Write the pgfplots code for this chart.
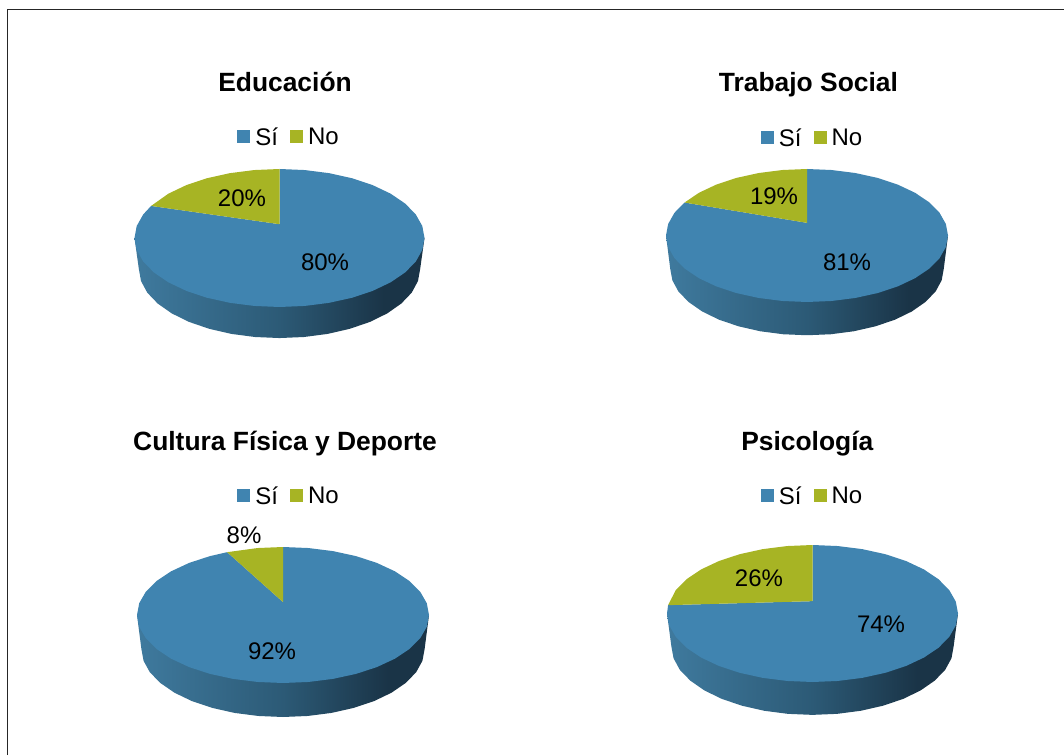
\documentclass[border=0pt]{standalone}
\usepackage{fontspec}
\setmainfont{Liberation Sans}
\usepackage{pgfplots}
\usepackage{pgfplotstable}
\pgfplotsset{compat=1.18}

\definecolor{si}{HTML}{4084B0}
\definecolor{no}{HTML}{A7B424}
\definecolor{wallA}{HTML}{3F7A9E}
\definecolor{wallB}{HTML}{2C5A76}
\definecolor{wallC}{HTML}{1A3447}
\definecolor{wallD}{HTML}{20405A}
\pgfdeclarehorizontalshading{wallside}{100bp}{
  color(0bp)=(wallA); color(25bp)=(wallA); color(50bp)=(wallB);
  color(68bp)=(wallC); color(75bp)=(wallC); color(100bp)=(wallD)}

% side wall of the pies, in units of the ellipse radii
\pgfplotstableread{
x y45 y50 y48
-1 0 0 0
-.97 -.45 -.5 -.48
-.955 -.624 -.674 -.654
-.912 -.792 -.842 -.822
-.84 -.95 -1 -.98
-.743 -1.093 -1.143 -1.123
-.624 -1.216 -1.266 -1.246
-.485 -1.316 -1.366 -1.346
-.332 -1.39 -1.44 -1.42
-.169 -1.435 -1.485 -1.465
0 -1.45 -1.5 -1.48
.169 -1.435 -1.485 -1.465
.332 -1.39 -1.44 -1.42
.485 -1.316 -1.366 -1.346
.624 -1.216 -1.266 -1.246
.743 -1.093 -1.143 -1.123
.84 -.95 -1 -.98
.912 -.792 -.842 -.822
.955 -.624 -.674 -.654
.97 -.45 -.5 -.48
1 0 0 0
}\wall

\tikzset{lab/.style={font=\fontsize{24}{28}\selectfont, inner sep=0pt}}
\pgfplotsset{
  pie/.style={
    hide axis, scale only axis, clip=false, anchor=center,
    xmin=-1, xmax=1, ymin=-1, ymax=1,
    title style={font=\fontsize{26.4}{30}\selectfont\bfseries, anchor=center, inner sep=0pt},
    legend columns=2,
    legend style={draw=none, fill=none, font=\fontsize{24}{28}\selectfont, anchor=center,
      inner sep=0pt, cells={anchor=west},
      /tikz/every even column/.append style={column sep=10pt}},
    legend image code/.code={\fill[##1] (0pt,-6pt) rectangle (13pt,7pt); \path (16pt,0pt);},
  },
}

\begin{document}
\begin{tikzpicture}
\path[use as bounding box] (0pt,0pt) rectangle (1064pt,755pt);
\draw[line width=1pt, color=black!85] (7pt,0pt) -- (7pt,745pt) -- (1064pt,745pt);

% Educacion
\begin{axis}[pie, at={(279.5pt,517pt)}, width=290pt, height=138pt,
  title={Educación}, title style={at={(0.519,1.587)}},
  legend style={at={(0.533,1.232)}}]
\addplot[shading=wallside, draw=none, forget plot] table[x=x, y=y45] {\wall};
\addplot[fill=si, draw=none, data cs=polar] coordinates {
  (90,.2) (90,1) (80,1) (70,1) (60,1) (50,1) (40,1) (30,1) (20,1) (10,1) (0,1)
  (-10,1) (-20,1) (-30,1) (-40,1) (-50,1) (-60,1) (-70,1) (-80,1) (-90,1)
  (-100,1) (-110,1) (-120,1) (-130,1) (-140,1) (-150,1) (-160,1) (-170,1) (-180,1)
  (-190,1) (-200,1) (-207.7,1)};
\addplot[fill=no, draw=none, data cs=polar] coordinates {
  (90,.2) (90,1) (100,1) (110,1) (120,1) (130,1) (140,1) (152.3,1)};
\legend{Sí,No}
\node[lab] at (axis cs:-.259,.58) {20\%};
\node[lab] at (axis cs:.314,-.348) {80\%};
\end{axis}

% Trabajo Social
\begin{axis}[pie, at={(807pt,519.5pt)}, width=282pt, height=133pt,
  title={Trabajo Social}, title style={at={(0.505,1.592)}},
  legend style={at={(0.52,1.23)}}]
\addplot[shading=wallside, draw=none, forget plot] table[x=x, y=y50] {\wall};
\addplot[fill=si, draw=none, data cs=polar] coordinates {
  (90,.19) (90,1) (80,1) (70,1) (60,1) (50,1) (40,1) (30,1) (20,1) (10,1) (0,1)
  (-10,1) (-20,1) (-30,1) (-40,1) (-50,1) (-60,1) (-70,1) (-80,1) (-90,1)
  (-100,1) (-110,1) (-120,1) (-130,1) (-140,1) (-150,1) (-160,1) (-170,1) (-180,1)
  (-190,1) (-200,1) (-209.7,1)};
\addplot[fill=no, draw=none, data cs=polar] coordinates {
  (90,.19) (90,1) (100,1) (110,1) (120,1) (130,1) (140,1) (150.3,1)};
\legend{Sí,No}
\node[lab] at (axis cs:-.234,.594) {19\%};
\node[lab] at (axis cs:.284,-.398) {81\%};
\end{axis}

% Cultura Fisica y Deporte
\begin{axis}[pie, at={(283pt,140pt)}, width=292pt, height=136pt,
  title={Cultura Física y Deporte}, title style={at={(0.507,1.718)}},
  legend style={at={(0.521,1.375)}}]
\addplot[shading=wallside, draw=none, forget plot] table[x=x, y=y50] {\wall};
\addplot[fill=si, draw=none, data cs=polar] coordinates {
  (90,.19) (90,1) (80,1) (70,1) (60,1) (50,1) (40,1) (30,1) (20,1) (10,1) (0,1)
  (-10,1) (-20,1) (-30,1) (-40,1) (-50,1) (-60,1) (-70,1) (-80,1) (-90,1)
  (-100,1) (-110,1) (-120,1) (-130,1) (-140,1) (-150,1) (-160,1) (-170,1) (-180,1)
  (-190,1) (-200,1) (-210,1) (-220,1) (-230,1) (-240,1) (-247.5,1)};
\addplot[fill=no, draw=none, data cs=polar] coordinates {
  (90,.19) (90,1) (100,1) (112.5,1)};
\legend{Sí,No}
\node[lab] at (axis cs:-.267,1.176) {8\%};
\node[lab] at (axis cs:-.075,-.529) {92\%};
\end{axis}

% Psicologia
\begin{axis}[pie, at={(812.5pt,141.5pt)}, width=291pt, height=137pt,
  title={Psicología}, title style={at={(0.482,1.694)}},
  legend style={at={(0.5,1.355)}}]
\addplot[shading=wallside, draw=none, forget plot] table[x=x, y=y48] {\wall};
\addplot[fill=si, draw=none, data cs=polar] coordinates {
  (90,.18) (90,1) (80,1) (70,1) (60,1) (50,1) (40,1) (30,1) (20,1) (10,1) (0,1)
  (-10,1) (-20,1) (-30,1) (-40,1) (-50,1) (-60,1) (-70,1) (-80,1) (-90,1)
  (-100,1) (-110,1) (-120,1) (-130,1) (-140,1) (-150,1) (-160,1) (-170,1) (-180,1)
  (-187,1)};
\addplot[fill=no, draw=none, data cs=polar] coordinates {
  (90,.18) (90,1) (100,1) (110,1) (120,1) (130,1) (140,1) (150,1) (160,1) (173,1)};
\legend{Sí,No}
\node[lab] at (axis cs:-.368,.518) {26\%};
\node[lab] at (axis cs:.471,-.153) {74\%};
\end{axis}
\end{tikzpicture}
\end{document}
